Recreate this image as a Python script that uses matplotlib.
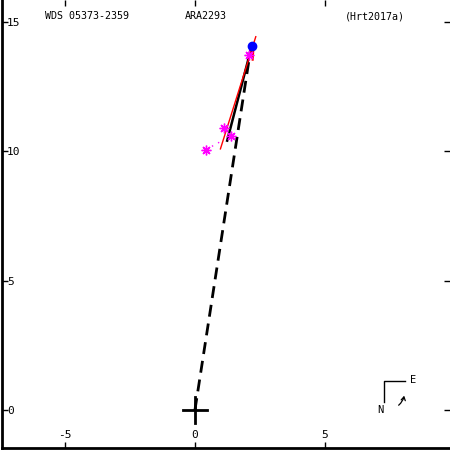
import matplotlib
matplotlib.use("Agg")
import matplotlib.pyplot as plt
from matplotlib.patches import FancyArrowPatch

# ---- data (arcsec offsets) ----
title_left = "WDS 05373-2359"
title_mid = "ARA2293"
title_right = "(Hrt2017a)"

xticks = [-5, 0, 5]
yticks = [0, 5, 10, 15]

dash_x = [0.0, 2.15]
dash_y = [0.0, 14.0]

orbit_x = [1.24, 2.19]
orbit_y = [10.42, 14.09]

fit_x = [0.98, 2.34]
fit_y = [10.10, 14.44]

primary_pt_x = [2.19]
primary_pt_y = [14.09]

meas_x = [1.13, 1.38, 0.42, 2.08]
meas_y = [10.92, 10.61, 10.07, 13.75]

resid_m_x = [0.42, 0.98]
resid_m_y = [10.07, 10.38]

resid_r_x = [2.22, 2.24]
resid_r_y = [13.55, 13.85]

xlim = (-7.44, 9.81)
ylim = (-1.47, 15.86)

fig = plt.figure(figsize=(4.5, 4.5), dpi=100)
ax = fig.add_axes([1.5 / 450, 2 / 450, 1 - 1.5 / 450, 1 - 2 / 450])
ax.set_xlim(*xlim)
ax.set_ylim(*ylim)

mono = "DejaVu Sans Mono"

# lines
ax.plot(dash_x, dash_y, color="black", lw=2, dashes=(4.3, 2.5), zorder=2)
ax.plot(orbit_x, orbit_y, color="black", lw=1.8, zorder=3)
ax.plot(fit_x, fit_y, color="red", lw=1, zorder=4)
ax.plot(resid_m_x, resid_m_y, color="magenta", lw=1, ls=(0, (1, 4)), zorder=4)
ax.plot(resid_r_x, resid_r_y, color="red", lw=1.5, zorder=5)
ax.plot(meas_x, meas_y, ls="none", marker=(8, 2, 0), ms=7, mew=1,
        color="magenta", zorder=5)
ax.plot(primary_pt_x, primary_pt_y, ls="none", marker="o", ms=6,
        color="blue", zorder=6)

# origin cross
ax.plot([-0.45, 0.45], [0, 0], color="black", lw=2, zorder=6)
ax.plot([0, 0], [-0.5, 0.5], color="black", lw=2, zorder=6)

# compass
ax.plot([7.27, 7.27, 8.08], [0.31, 1.12, 1.12], color="black", lw=1)
ax.text(7.15, 0.0, "N", fontsize=7.5, family=mono, ha="center", va="center")
ax.text(8.38, 1.17, "E", fontsize=7.5, family=mono, ha="center", va="center")
arr = FancyArrowPatch((7.75, 0.12), (8.06, 0.66), connectionstyle="arc3,rad=0.25",
                      arrowstyle="->,head_length=2.5,head_width=1.5",
                      color="black", lw=0.9)
ax.add_patch(arr)

# titles
ax.text(0.097, 0.964, title_left, transform=ax.transAxes, fontsize=7.2,
        family=mono, ha="left", va="center")
ax.text(0.409, 0.964, title_mid, transform=ax.transAxes, fontsize=7.2,
        family=mono, ha="left", va="center")
ax.text(0.766, 0.964, title_right, transform=ax.transAxes, fontsize=7.2,
        family=mono, ha="left", va="center")

# axes styling
for s in ["top", "right"]:
    ax.spines[s].set_visible(False)
for s in ["left", "bottom"]:
    ax.spines[s].set_linewidth(2)

ax.set_xticks(xticks)
ax.set_yticks(yticks)
ax.set_xticklabels([str(v) for v in xticks])
ax.set_yticklabels([str(v) for v in yticks])
ax.tick_params(axis="both", direction="in", length=4, width=1,
               top=True, right=True, labelsize=8)
ax.tick_params(axis="y", pad=-4)
ax.tick_params(axis="x", pad=-9.5)
for lab in ax.get_yticklabels():
    lab.set_horizontalalignment("left")
    lab.set_family(mono)
for lab in ax.get_xticklabels():
    lab.set_verticalalignment("center")
    lab.set_family(mono)

fig.savefig("out.png", dpi=100)
